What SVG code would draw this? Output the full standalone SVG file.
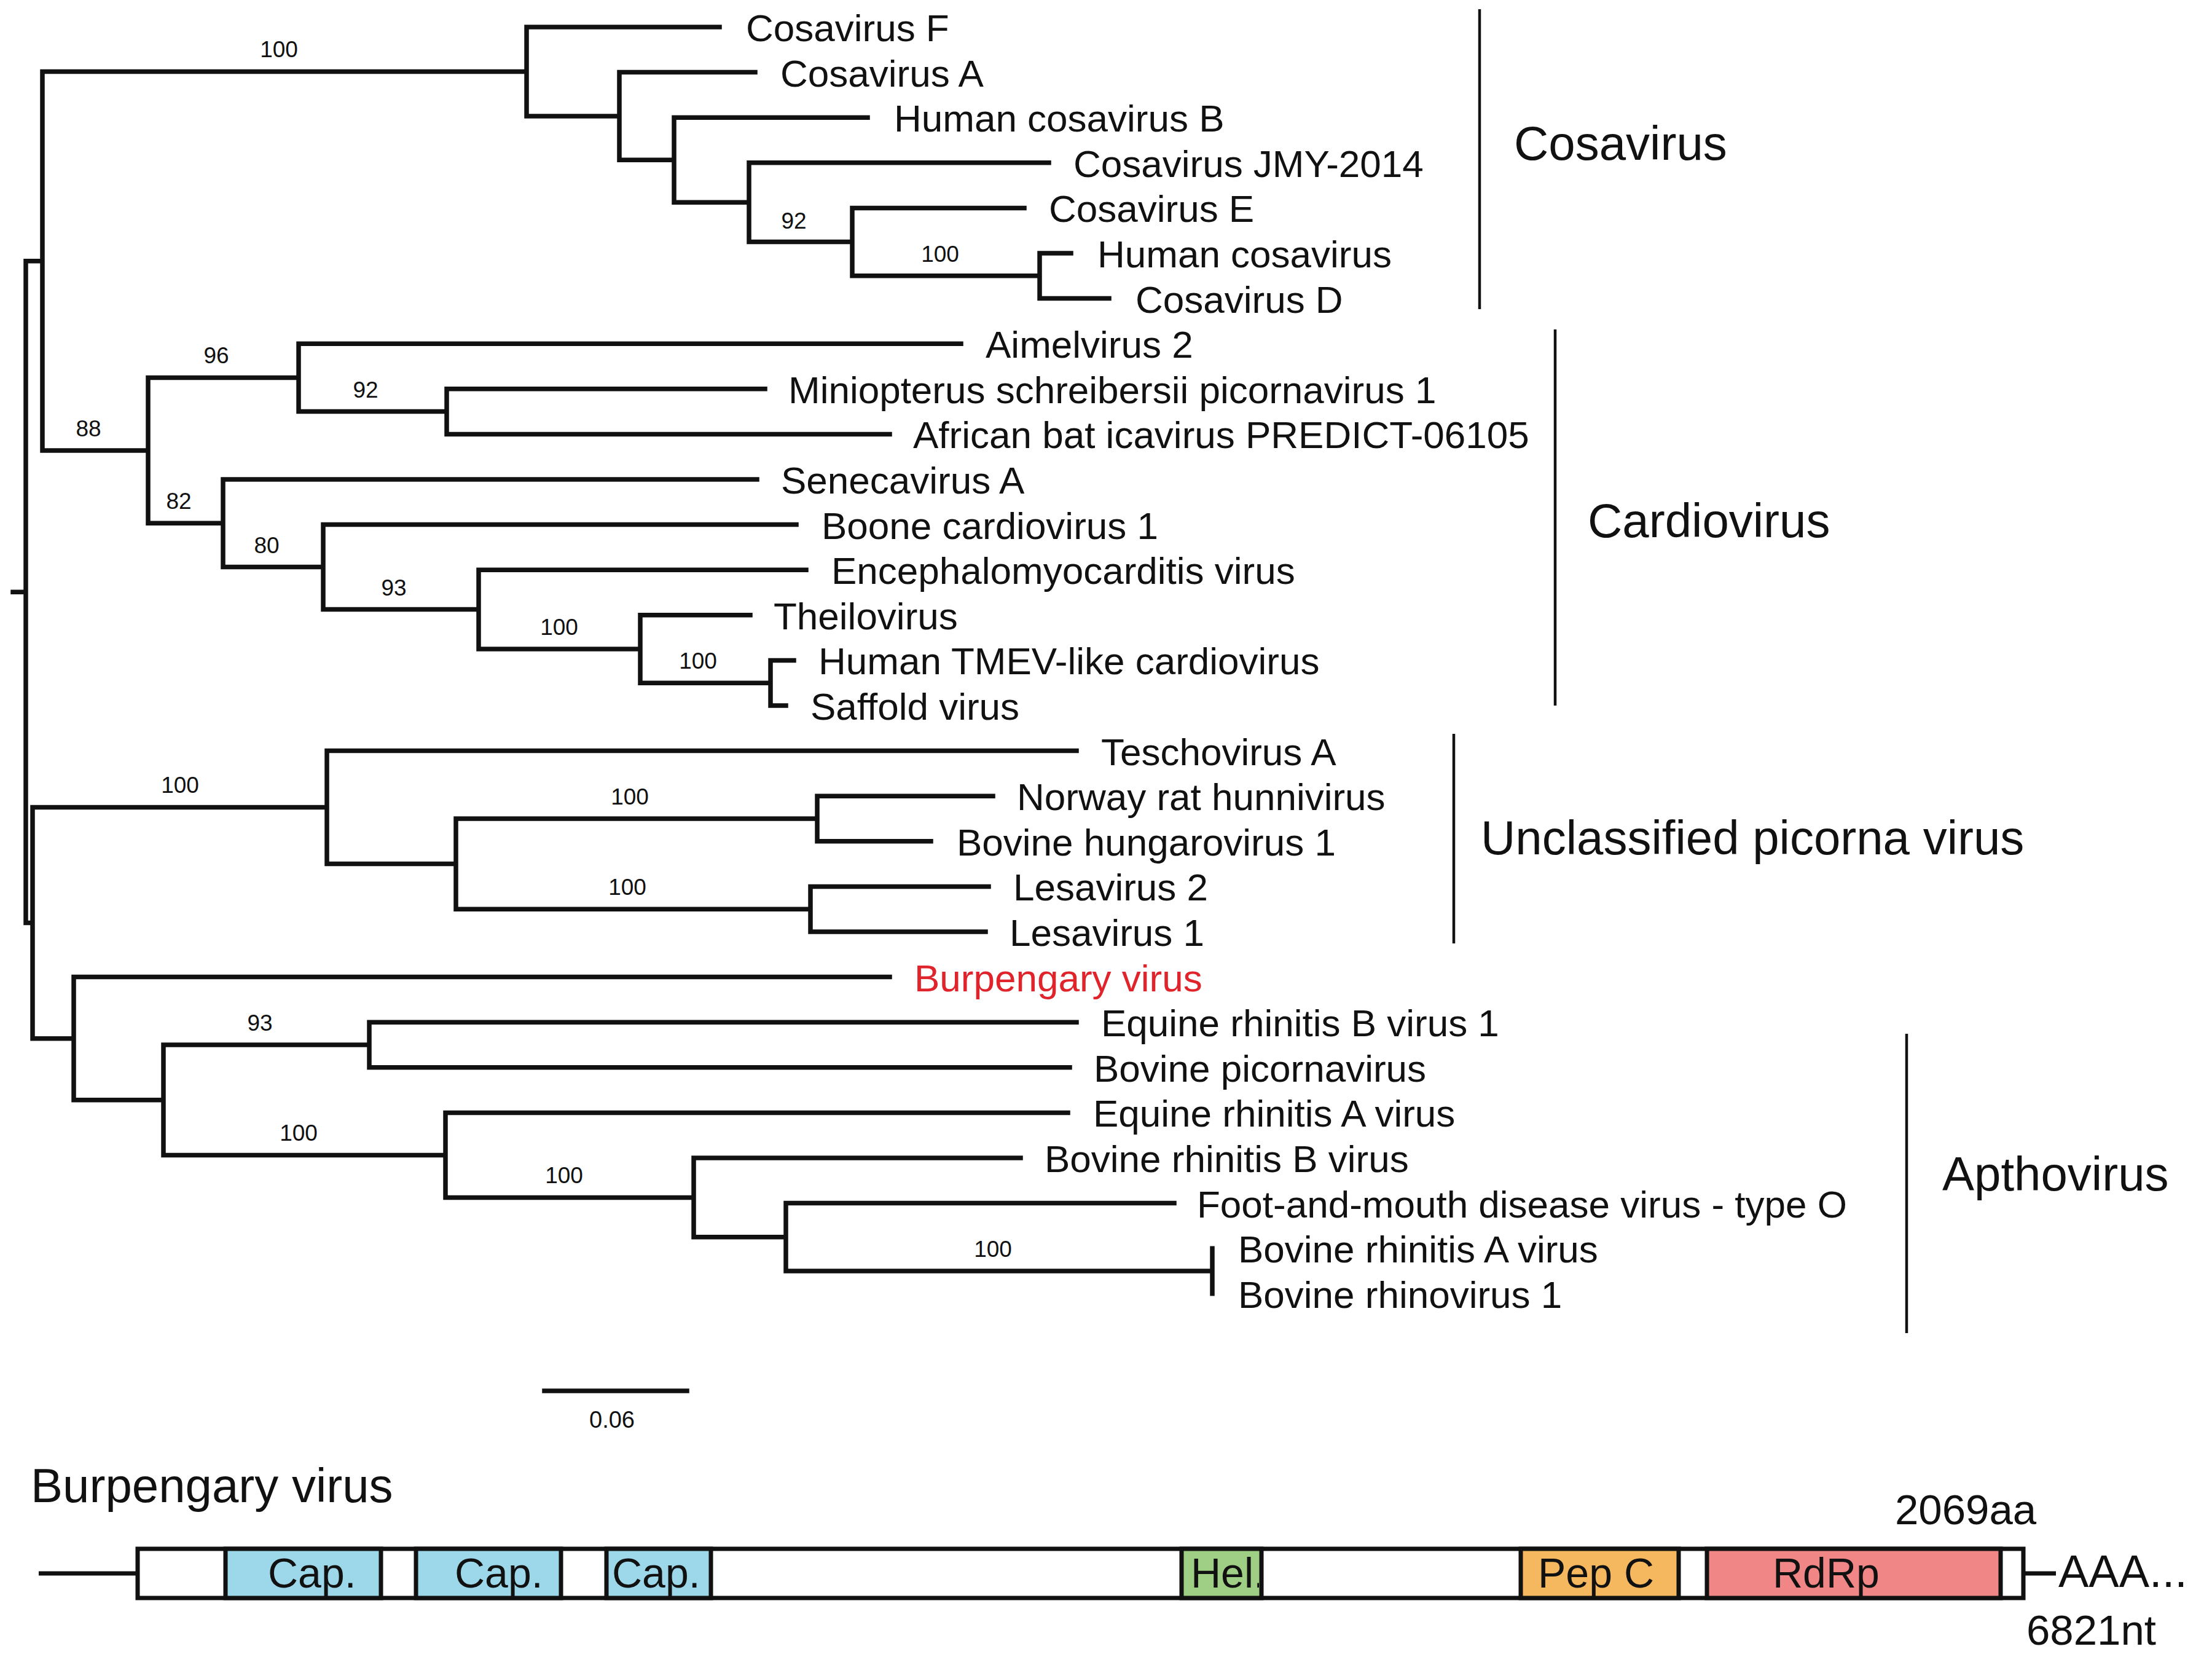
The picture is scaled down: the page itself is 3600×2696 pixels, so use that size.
<svg xmlns="http://www.w3.org/2000/svg" width="3600" height="2696" viewBox="0 0 3600 2696">
<style>
text{font-family:"Liberation Sans",Arial,sans-serif;fill:#111}
.leaf{font-size:62px}
.bs{font-size:37px;text-anchor:middle}
.clade{font-size:78px}
.br{fill:none;stroke:#111;stroke-width:7.5;stroke-linecap:square}
.bar{stroke:#111;stroke-width:4.5}
.dom{stroke:#111;stroke-width:7}
.dl{font-size:68px}
</style>
<defs>
<clipPath id="helclip"><rect x="1923" y="2518" width="126" height="82"/></clipPath>
</defs>
<rect width="3600" height="2696" fill="#fff"/>
<g id="connectors">
<path class="br" d="M21 963.2H42 M42 424.7V1501.6 M42 424.7H69 M42 1501.6H53
M69 116.4V732.9 M69 116.4H857 M69 732.9H241
M857 44V188.9 M857 44H1171 M857 188.9H1008
M1008 117.6V260.2 M1008 117.6H1229 M1008 260.2H1097
M1097 191.2V329.2 M1097 191.2H1412 M1097 329.2H1219
M1219 264.8V393.6 M1219 264.8H1707 M1219 393.6H1387
M1387 338.4V448.8 M1387 338.4H1667 M1387 448.8H1692
M1692 412V485.6 M1692 412H1743 M1692 485.6H1805
M241 614.4V851.3 M241 614.4H486 M241 851.3H363
M486 559.2V669.6 M486 559.2H1564 M486 669.6H727
M727 632.8V706.4 M727 632.8H1245 M727 706.4H1448
M363 780V922.6 M363 780H1232 M363 922.6H526
M526 853.6V991.6 M526 853.6H1296 M526 991.6H779
M779 927.2V1056 M779 927.2H1312 M779 1056H1042
M1042 1000.8V1111.2 M1042 1000.8H1221 M1042 1111.2H1254
M1254 1074.4V1148 M1254 1074.4H1292 M1254 1148H1279
M53 1313.6V1689.7 M53 1313.6H532 M53 1689.7H120
M532 1221.6V1405.6 M532 1221.6H1752 M532 1405.6H742
M742 1332V1479.2 M742 1332H1330 M742 1479.2H1319
M1330 1295.2V1368.8 M1330 1295.2H1616 M1330 1368.8H1515
M1319 1442.4V1516 M1319 1442.4H1609 M1319 1516H1604
M120 1589.6V1789.7 M120 1589.6H1448 M120 1789.7H266
M266 1700V1879.4 M266 1700H601 M266 1879.4H725
M601 1663.2V1736.8 M601 1663.2H1752 M601 1736.8H1741
M725 1810.4V1948.4 M725 1810.4H1738 M725 1948.4H1129
M1129 1884V2012.8 M1129 1884H1661 M1129 2012.8H1279
M1279 1957.6V2068 M1279 1957.6H1911 M1279 2068H1973
M1973 2031.2V2104.8"/>
<path class="br" d="M886 2263H1118"/>
</g>
<g id="bootstrap">
<text class="bs" x="454" y="93">100</text>
<text class="bs" x="1292" y="372">92</text>
<text class="bs" x="1530" y="426">100</text>
<text class="bs" x="144" y="710">88</text>
<text class="bs" x="352" y="591">96</text>
<text class="bs" x="595" y="647">92</text>
<text class="bs" x="291" y="828">82</text>
<text class="bs" x="434" y="900">80</text>
<text class="bs" x="641" y="969">93</text>
<text class="bs" x="910" y="1033">100</text>
<text class="bs" x="1136" y="1088">100</text>
<text class="bs" x="293" y="1290">100</text>
<text class="bs" x="1025" y="1309">100</text>
<text class="bs" x="1021" y="1456">100</text>
<text class="bs" x="423" y="1677">93</text>
<text class="bs" x="486" y="1856">100</text>
<text class="bs" x="918" y="1925">100</text>
<text class="bs" x="1616" y="2045">100</text>
<text class="bs" x="996" y="2323" style="font-size:38px">0.06</text>
</g>
<g id="leaf-cosF"><text class="leaf" x="1214" y="67">Cosavirus F</text></g>
<g id="leaf-cosA"><text class="leaf" x="1270" y="140.6">Cosavirus A</text></g>
<g id="leaf-hcosB"><text class="leaf" x="1455" y="214.2">Human cosavirus B</text></g>
<g id="leaf-cosJMY"><text class="leaf" x="1747" y="287.8">Cosavirus JMY-2014</text></g>
<g id="leaf-cosE"><text class="leaf" x="1707" y="361.4">Cosavirus E</text></g>
<g id="leaf-hcos"><text class="leaf" x="1786" y="435">Human cosavirus</text></g>
<g id="leaf-cosD"><text class="leaf" x="1848" y="508.6">Cosavirus D</text></g>
<g id="leaf-aimel"><text class="leaf" x="1604" y="582.2">Aimelvirus 2</text></g>
<g id="leaf-minio"><text class="leaf" x="1283" y="655.8">Miniopterus schreibersii picornavirus 1</text></g>
<g id="leaf-africanbat"><text class="leaf" x="1486" y="729.4">African bat icavirus PREDICT-06105</text></g>
<g id="leaf-seneca"><text class="leaf" x="1271" y="803">Senecavirus A</text></g>
<g id="leaf-boone"><text class="leaf" x="1337" y="876.6">Boone cardiovirus 1</text></g>
<g id="leaf-emcv"><text class="leaf" x="1353" y="950.2">Encephalomyocarditis virus</text></g>
<g id="leaf-theilo"><text class="leaf" x="1259" y="1023.8">Theilovirus</text></g>
<g id="leaf-tmev"><text class="leaf" x="1332" y="1097.4">Human TMEV-like cardiovirus</text></g>
<g id="leaf-saffold"><text class="leaf" x="1319" y="1171">Saffold virus</text></g>
<g id="leaf-tescho"><text class="leaf" x="1792" y="1244.6">Teschovirus A</text></g>
<g id="leaf-norway"><text class="leaf" x="1655" y="1318.2">Norway rat hunnivirus</text></g>
<g id="leaf-bovhung"><text class="leaf" x="1557" y="1391.8">Bovine hungarovirus 1</text></g>
<g id="leaf-lesa2"><text class="leaf" x="1649" y="1465.4">Lesavirus 2</text></g>
<g id="leaf-lesa1"><text class="leaf" x="1643" y="1539">Lesavirus 1</text></g>
<g id="leaf-burpengary"><text class="leaf" x="1488" y="1612.6" style="fill:#e0242b">Burpengary virus</text></g>
<g id="leaf-erbv1"><text class="leaf" x="1792" y="1686.2">Equine rhinitis B virus 1</text></g>
<g id="leaf-bovpicorna"><text class="leaf" x="1780" y="1759.8">Bovine picornavirus</text></g>
<g id="leaf-erav"><text class="leaf" x="1779" y="1833.4">Equine rhinitis A virus</text></g>
<g id="leaf-brbv"><text class="leaf" x="1700" y="1907">Bovine rhinitis B virus</text></g>
<g id="leaf-fmdv"><text class="leaf" x="1948" y="1980.6">Foot-and-mouth disease virus - type O</text></g>
<g id="leaf-brav"><text class="leaf" x="2015" y="2054.2">Bovine rhinitis A virus</text></g>
<g id="leaf-brv1"><text class="leaf" x="2015" y="2127.8">Bovine rhinovirus 1</text></g>
<g id="clade-cosavirus"><line class="bar" x1="2408" y1="15" x2="2408" y2="503"/><text class="clade" x="2464" y="260">Cosavirus</text></g>
<g id="clade-cardiovirus"><line class="bar" x1="2531" y1="536" x2="2531" y2="1148"/><text class="clade" x="2584" y="874">Cardiovirus</text></g>
<g id="clade-unclassified"><line class="bar" x1="2366" y1="1194" x2="2366" y2="1535"/><text class="clade" x="2410" y="1390">Unclassified picorna virus</text></g>
<g id="clade-apthovirus"><line class="bar" x1="3103" y1="1682" x2="3103" y2="2169"/><text class="clade" x="3161" y="1937">Apthovirus</text></g>
<g id="genome">
<text x="50" y="2444" style="font-size:78px">Burpengary virus</text>
<line class="dom" x1="63" y1="2560" x2="224" y2="2560"/>
<line class="dom" x1="3293" y1="2560" x2="3346" y2="2560"/>
<rect class="dom" x="224" y="2520" width="3069" height="80" fill="#fff"/>
<g id="dom-cap1"><rect class="dom" x="367" y="2520" width="253" height="80" fill="#9dd8ea"/><text class="dl" x="436" y="2583">Cap.</text></g>
<g id="dom-cap2"><rect class="dom" x="677" y="2520" width="236" height="80" fill="#9dd8ea"/><text class="dl" x="740" y="2583">Cap.</text></g>
<g id="dom-cap3"><rect class="dom" x="987" y="2520" width="170" height="80" fill="#9dd8ea"/><text class="dl" x="996" y="2583">Cap.</text></g>
<g id="dom-hel"><rect class="dom" x="1923" y="2520" width="130" height="80" fill="#9fcf84"/><text class="dl" x="1938" y="2583" clip-path="url(#helclip)">Hel.</text></g>
<g id="dom-pepc"><rect class="dom" x="2475" y="2520" width="257" height="80" fill="#f5b85e"/><text class="dl" x="2503" y="2583">Pep C</text></g>
<g id="dom-rdrp"><rect class="dom" x="2778" y="2520" width="478" height="80" fill="#f08686"/><text class="dl" x="2885" y="2583">RdRp</text></g>
<text x="3084" y="2480" style="font-size:69px">2069aa</text>
<text x="3350" y="2582" style="font-size:74px">AAA...</text>
<text x="3298" y="2676" style="font-size:69px">6821nt</text>
</g>
</svg>
